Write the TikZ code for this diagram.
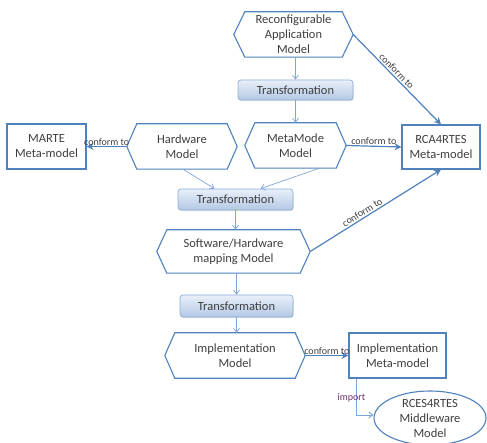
\documentclass[tikz,border=0pt]{standalone}
\usepackage{fontspec}
\setmainfont{Carlito}
\usetikzlibrary{shapes.geometric,arrows.meta,shadows}
\definecolor{bord}{HTML}{4F81BD}
\definecolor{thin}{HTML}{7FA6D9}
\definecolor{txt}{HTML}{3F3F3F}
\definecolor{ttop}{HTML}{E9F0F9}
\definecolor{tbot}{HTML}{B3C8E5}
\definecolor{tbord}{HTML}{8DAEDA}
\definecolor{imp}{HTML}{703066}
\newcommand\hexdraw[2]{%
  \draw[hexline] (#1.north west) -- (#1.north east) -- ([xshift=#2]#1.east)
     -- (#1.south east) -- (#1.south west) -- ([xshift=-#2]#1.west) -- cycle;
  \coordinate (#1-r) at ([xshift=#2]#1.east);
  \coordinate (#1-l) at ([xshift=-#2]#1.west);}
\begin{document}
\begin{tikzpicture}[x=1pt,y=-1pt,
  every node/.style={text=txt, font=\fontsize{12.5}{15}\selectfont, align=center},
  hexin/.style={rectangle, inner sep=0pt},
  hexline/.style={draw=bord, line width=1.1pt, line join=miter},
  boxa/.style={rectangle, draw=bord, line width=1.1pt, inner sep=0pt, fill=white},
  trans/.style={rectangle, rounded corners=3pt, draw=tbord, line width=0.7pt,
     top color=ttop, bottom color=tbot, inner sep=0pt,
     drop shadow={opacity=0.25, shadow xshift=0.6pt, shadow yshift=-1.2pt}},
  ellipsa/.style={ellipse, draw=bord, line width=1.1pt, inner sep=0pt, fill=white},
  thinarrow/.style={draw=thin, line width=0.7pt, -{Straight Barb[length=4pt,width=6pt]}},
  conf/.style={draw=bord, line width=1.2pt, -{Stealth[length=7pt,width=7pt]}},
  lab/.style={font=\fontsize{10}{12}\selectfont, inner sep=1.5pt},
]
\useasboundingbox (0,0) rectangle (487,443);

% hexagon models (inner rectangle + drawn outline)
\node[hexin, minimum width=97pt, minimum height=45pt] (rap) at (293.5,34.5) {Reconfigurable\\Application\\Model};
\hexdraw{rap}{11pt}
\node[hexin, minimum width=81pt, minimum height=45pt] (mm) at (295.5,145.5) {MetaMode\\Model};
\hexdraw{mm}{10pt}
\node[hexin, minimum width=90pt, minimum height=45pt] (hw) at (182,146.5) {Hardware\\Model};
\hexdraw{hw}{10pt}
\node[hexin, minimum width=133pt, minimum height=43pt] (sw) at (233.5,251.5) {Software/Hardware\\mapping Model};
\hexdraw{sw}{10pt}
\node[hexin, minimum width=120pt, minimum height=45pt] (im) at (235,355.5) {Implementation\\Model};
\hexdraw{im}{10pt}

\node[trans, minimum width=115pt, minimum height=20pt] (t1) at (295.5,90) {Transformation};
\node[boxa, minimum width=78pt, minimum height=44pt] (rca) at (441,147) {RCA4RTES\\Meta-model};
\node[boxa, minimum width=79pt, minimum height=45pt] (marte) at (46.5,146.5) {MARTE\\Meta-model};
\node[trans, minimum width=115pt, minimum height=21pt] (t2) at (235.5,199.5) {Transformation};
\node[trans, minimum width=113pt, minimum height=22pt] (t3) at (236.5,306) {Transformation};
\node[boxa, minimum width=97pt, minimum height=45pt] (imm) at (397.5,355.5) {Implementation\\Meta-model};
\node[ellipsa, minimum width=112pt, minimum height=52pt] (el) at (430,418) {RCES4RTES\\Middleware\\Model};

\draw[thinarrow] (t1.north |- rap.south) -- (t1.north);
\draw[thinarrow] (t1.south) -- (mm.north);
\draw[thinarrow] ([xshift=1pt]hw.south) -- ([xshift=-21pt]t2.north);
\draw[thinarrow] ([xshift=24pt]mm.south) -- ([xshift=25pt]t2.north);
\draw[thinarrow] (t2.south) -- (t2.south |- sw.north);
\draw[thinarrow] (t3.north |- sw.south) -- (t3.north);
\draw[thinarrow] (t3.south) -- (t3.south |- im.north);

\draw[conf] (rap-r) -- node[lab, sloped, above, pos=0.45] {conform to} (rca.north);
\draw[conf] (mm-r) -- node[lab, above] {conform to} (rca.west);
\draw[conf] (hw-l) -- node[lab, above, inner sep=0.5pt] {conform to} (marte.east);
\draw[conf] (sw-r) -- node[lab, sloped, above, pos=0.42] {conform to} (rca.south);
\draw[conf] (im-r) -- node[lab, above, inner sep=0.5pt] {conform to} (imm.west);
\draw[draw=thin, line width=0.9pt, -{Straight Barb[length=4pt,width=6pt]}] ([xshift=8pt]imm.south west) |- node[lab, pos=0.27, xshift=-5pt, text=imp] {import} ([yshift=3pt]el.west);
\end{tikzpicture}
\end{document}
